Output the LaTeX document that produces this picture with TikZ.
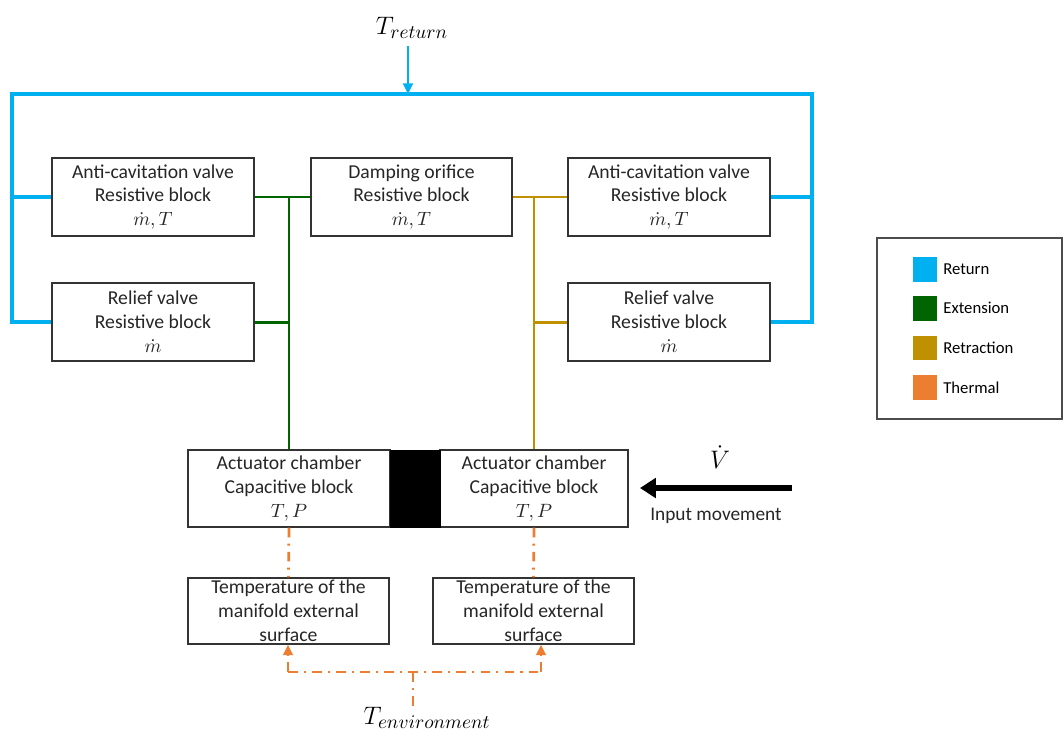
\documentclass[tikz,border=0pt]{standalone}
\usepackage{amsmath,amssymb}
\usepackage{fontspec}
\setmainfont{Carlito}
\usepackage{tikz}
\usepackage{xcolor}
\usetikzlibrary{arrows.meta}

\definecolor{retc}{RGB}{0,176,240}
\definecolor{extc}{RGB}{0,100,0}
\definecolor{rtrc}{RGB}{191,144,0}
\definecolor{thmc}{RGB}{237,125,49}
\definecolor{txtc}{RGB}{38,38,38}

\tikzset{
  blk/.style={draw=black!80, line width=0.8pt, fill=white, align=center, inner sep=0pt,
    text=txtc, font=\fontsize{11.2}{13.6}\selectfont, minimum width=4.04cm, minimum height=1.56cm},
  tblk/.style={blk, minimum width=4.02cm, minimum height=1.32cm},
  ret/.style={draw=retc, line width=1.8pt},
  ext/.style={draw=extc, line width=1.7pt},
  rtr/.style={draw=rtrc, line width=1.7pt},
  therm/.style={draw=thmc, line width=1.6pt, dash pattern=on 5.5pt off 3.5pt on 1.2pt off 3.5pt},
  bigmath/.style={inner sep=0pt, font=\fontsize{15}{18}\selectfont},
  legtxt/.style={anchor=west, inner sep=0pt, font=\fontsize{9.5}{11}\selectfont}
}

\begin{document}
\begin{tikzpicture}[x=0.02cm,y=-0.02cm]
\useasboundingbox (0,0) rectangle (1063,731);

\node[blk] (acl) at (153,197) {Anti-cavitation valve\\Resistive block\\$\dot{m},T$};
\node[blk] (rvl) at (153,322) {Relief valve\\Resistive block\\$\dot{m}$};
\node[blk, minimum width=4.02cm] (damp) at (411.5,197) {Damping orifice\\Resistive block\\$\dot{m},T$};
\node[blk] (acr) at (669,197) {Anti-cavitation valve\\Resistive block\\$\dot{m},T$};
\node[blk] (rvr) at (669,322) {Relief valve\\Resistive block\\$\dot{m}$};

\node[blk, minimum height=1.54cm] (chl) at (289,488.5) {Actuator chamber\\Capacitive block\\$T,P$};
\node[blk, minimum width=3.76cm, minimum height=1.54cm] (chr) at (534,488.5) {Actuator chamber\\Capacitive block\\$T,P$};
\node[draw=black, fill=black, minimum width=1cm, minimum height=1.54cm, inner sep=0pt] (pist) at (415,488.5) {};

\node[tblk] (tml) at (288.5,611) {Temperature of the\\manifold external\\surface};
\node[tblk] (tmr) at (533.5,611) {Temperature of the\\manifold external\\surface};

\node[bigmath] (tret) at (412,28) {$T_{return}$};
\coordinate (tin) at (408,46);
\coordinate (tl) at (12,94);
\coordinate (tr) at (812,94);
\draw[ret] (rvl.west) -| (tl) -- (tr) |- (rvr.east);
\draw[ret] (acl.west) -- (acl.west -| tl);
\draw[ret] (acr.east) -- (acr.east -| tr);
\draw[ret, line width=1.3pt, -{Triangle[length=6pt,width=5.5pt]}] (tin) -- (tin |- tl);

\coordinate (gj) at (acl.east -| chl.north);
\draw[ext] (acl.east) -- (damp.west);
\draw[ext] (rvl.east) -- (rvl.east -| gj);
\draw[ext] (gj) -- (chl.north);

\coordinate (rj) at (damp.east -| chr.north);
\draw[rtr] (damp.east) -- (acr.west);
\draw[rtr] (rvr.west) -- (rvr.west -| rj);
\draw[rtr] (rj) -- (chr.north);

\draw[therm] (chl.south) -- (tml.north);
\draw[therm] (chr.south) -- (tmr.north);

\node[bigmath] (tenv) at (427,718) {$T_{environment}$};
\coordinate (el) at (288,672);
\coordinate (er) at (541,672);
\coordinate (ej) at (413,672);
\draw[therm] (el) -- (er);
\draw[therm, -{Triangle[length=6pt,width=5.5pt]}] (el) -- (el |- tml.south);
\draw[therm, -{Triangle[length=6pt,width=5.5pt]}] (er) -- (er |- tmr.south);
\draw[therm] (ej) -- (ej |- tenv.north);

\coordinate (vin) at (792,488);
\coordinate (vend) at (640,488);
\draw[line width=3.4pt, -{Triangle[length=9pt,width=11pt]}] (vin) -- (vend);
\node[bigmath] (vdot) at (720,457) {$\dot{V}$};
\node[inner sep=0pt, text=txtc, font=\fontsize{11}{13}\selectfont] (inp) at (716,516) {Input movement};

\node[draw=black!70, line width=0.8pt, minimum width=3.7cm, minimum height=3.62cm, inner sep=0pt] (leg) at (969.5,328.5) {};
\fill[retc] (913,257) rectangle (937,282);
\node[legtxt] (lret) at (943,269) {Return};
\fill[extc] (913,296) rectangle (937,321);
\node[legtxt] (lext) at (943,308) {Extension};
\fill[rtrc] (913,336) rectangle (937,360);
\node[legtxt] (lrtr) at (943,348) {Retraction};
\fill[thmc] (913,375) rectangle (937,400);
\node[legtxt] (lthm) at (943,388) {Thermal};
\end{tikzpicture}
\end{document}
